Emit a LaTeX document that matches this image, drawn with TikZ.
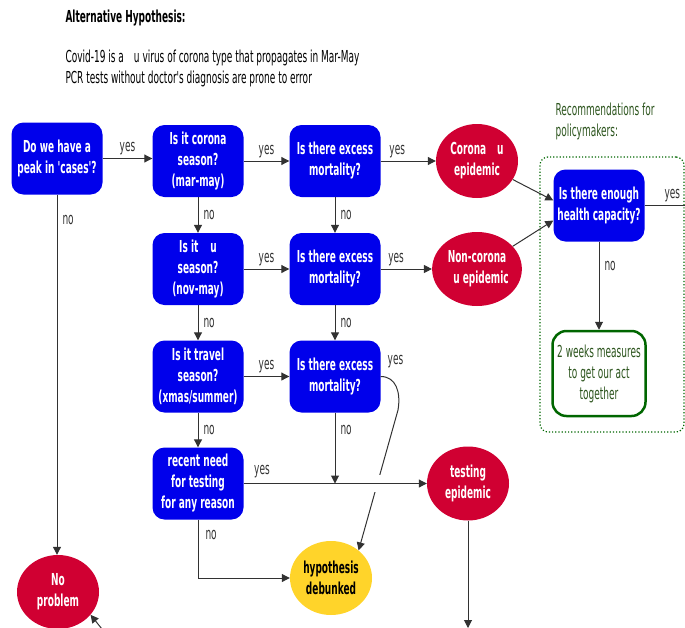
\documentclass[tikz,border=0pt]{standalone}
\usepackage{fontspec}
\setmainfont{DejaVu Sans}[FakeStretch=0.545, Ligatures=TeXOff]
\usetikzlibrary{arrows.meta,shapes.geometric}

\definecolor{qblue}{RGB}{0,0,235}
\definecolor{qred}{RGB}{208,0,50}
\definecolor{qyellow}{RGB}{255,212,42}
\definecolor{qgreen}{RGB}{0,102,0}
\definecolor{qtext}{RGB}{45,85,30}
\definecolor{qline}{RGB}{50,50,50}
\newcommand{\qfont}{\fontsize{16.5}{21}\selectfont}

\begin{document}
\begin{tikzpicture}[x=1pt, y=1pt, font=\qfont,
  question/.style={fill=qblue, text=white, font=\qfont\bfseries, rounded corners=12pt, align=center, minimum width=91pt, minimum height=72pt, inner sep=1pt},
  outcome/.style={ellipse, fill=qred, text=white, font=\qfont\bfseries, align=center, minimum width=82pt, minimum height=74pt, inner sep=0pt},
  measure/.style={draw=qgreen, line width=2.5pt, fill=white, text=qtext, rounded corners=14pt, align=center, minimum width=93pt, minimum height=85pt, inner sep=1pt},
  arr/.style={draw=qline, line width=1pt, -{Triangle[length=8pt,width=8pt]}},
  lbl/.style={text=qline, inner sep=1pt}]
\useasboundingbox (0,0) rectangle (685,-627);
\clip (0,0) rectangle (685,-627);

\node[anchor=west, font=\qfont\bfseries] (title) at (62,-18) {Alternative Hypothesis:};
\node[anchor=west, align=left] (hypo) at (62,-68) {Covid-19 is a\hspace{10pt}u virus of corona type that propagates in Mar-May\\PCR tests without doctor's diagnosis are prone to error};
\node[anchor=west, align=left, text=qtext] (recom) at (552,-121) {Recommendations for\\policymakers:};
\node[draw=qgreen, dotted, line width=1.2pt, rounded corners=8pt, minimum width=144pt, minimum height=275pt] (policy) at (612,-294.5) {};

\node[question] (peak) at (57,-158.5) {Do we have a\\peak in 'cases'?};
\node[question] (corona) at (198,-161) {Is it corona\\season?\\(mar-may)};
\node[question] (flu) at (198,-269) {Is it\hspace{12pt}u\\season?\\(nov-may)};
\node[question] (travel) at (198,-376.5) {Is it travel\\season?\\(xmas/summer)};
\node[question] (need) at (198,-483.5) {recent need\\for testing\\for any reason};
\node[question] (mort1) at (335,-161) {Is there excess\\mortality?};
\node[question] (mort2) at (335,-269) {Is there excess\\mortality?};
\node[question] (mort3) at (335,-376.5) {Is there excess\\mortality?};
\node[outcome] (coronaepi) at (477,-161) {Corona\hspace{11pt}u\\epidemic};
\node[outcome] (fluepi) at (477,-269) {Non-corona\\\hspace{8pt}u epidemic};
\node[outcome] (testepi) at (468,-483.5) {testing\\epidemic};
\node[outcome, fill=qyellow, text=black] (debunked) at (331,-578) {hypothesis\\debunked};
\node[outcome] (noproblem) at (58,-592) {No\\problem};
\node[question] (capacity) at (599,-205.5) {Is there enough\\health capacity?};
\node[measure] (measures) at (599,-373.5) {2 weeks measures\\to get our act\\together};

\coordinate (join) at (mort3 |- testepi);
\coordinate (offright) at (700,-205.5);
\coordinate (offbottom) at (468,-628);
\coordinate (offcorner) at (106,-634);

\draw[arr] (peak.east) -- node[lbl, above=2pt] {yes} (peak.east -| corona.west);
\foreach \a/\b in {corona/mort1, flu/mort2, travel/mort3}
  \draw[arr] (\a) -- node[lbl, above=2pt] {yes} (\b);
\foreach \a/\b in {mort1/coronaepi, mort2/fluepi}
  \draw[arr] (\a) -- node[lbl, above=2pt, pos=0.3] {yes} (\b);
\foreach \a/\b in {corona/flu, flu/travel, travel/need, mort1/mort2, mort2/mort3}
  \draw[arr] (\a) -- node[lbl, right=4pt] {no} (\b);
\draw[arr] (peak) -- node[lbl, right=4pt, pos=0.07] {no} (peak |- noproblem.north);

\draw[arr] (mort3.east) node[lbl, anchor=south west, xshift=5.5pt, yshift=7pt] {yes}
  .. controls (396,-376.5) and (401,-392) .. (398,-410) -- (debunked.45);
\fill[white] (361,-475) rectangle (383,-492);
\draw[arr] (need) -- node[lbl, above=4pt, pos=0.1] {yes} (testepi);
\draw[arr] (mort3) -- node[lbl, right=4pt, pos=0.25] {no} (join);
\draw[arr] (need) |- node[lbl, right=6pt, pos=0.13] {no} (debunked);
\draw[arr] (testepi) -- (offbottom);
\draw[arr] (offcorner) -- (noproblem.-35);

\draw[arr] (coronaepi) -- ([yshift=5pt]capacity.west);
\draw[arr] (fluepi) -- ([yshift=-15pt]capacity.west);
\draw[draw=qline, line width=1pt] (capacity) -- node[lbl, above=2pt] {yes} (offright);
\draw[arr] (capacity) -- node[lbl, right=4pt, pos=0.28] {no} (measures);
\end{tikzpicture}
\end{document}
